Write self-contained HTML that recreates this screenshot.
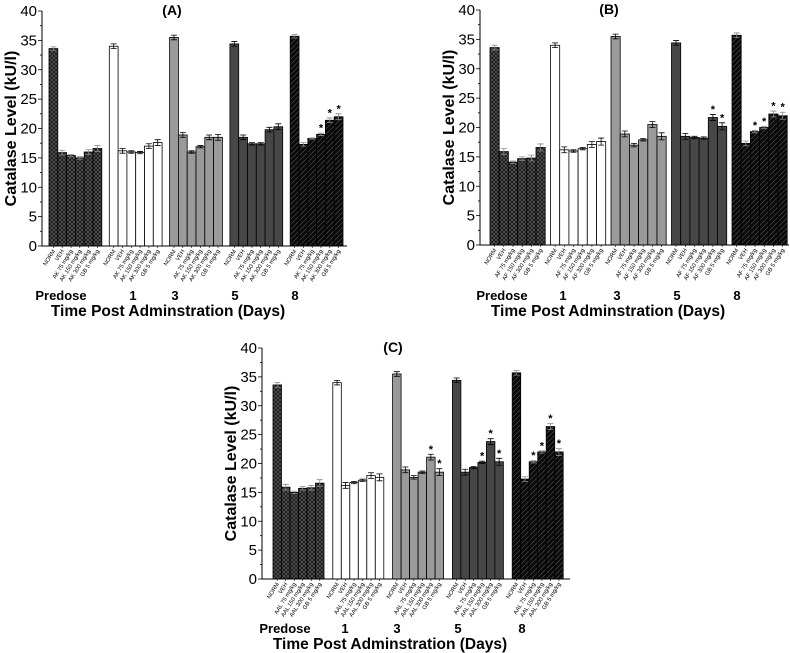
<!DOCTYPE html>
<html><head><meta charset="utf-8">
<style>
html,body{margin:0;padding:0;background:#fff;}
svg{display:block;font-family:"Liberation Sans",Arial,sans-serif;}
</style></head>
<body>
<svg id="fig" width="790" height="653" viewBox="0 0 790 653" xmlns="http://www.w3.org/2000/svg">
<defs>
<pattern id="pCross" width="4" height="4" patternUnits="userSpaceOnUse">
<rect width="4" height="4" fill="#1a1a1a"/>
<path d="M0,0 L4,4 M4,0 L0,4" stroke="#666" stroke-width="0.6"/>
</pattern>
<pattern id="pDiag" width="5" height="5" patternUnits="userSpaceOnUse">
<rect width="5" height="5" fill="#0a0a0a"/>
<path d="M0,5 L5,0" stroke="#555" stroke-width="0.6"/>
</pattern>
</defs>
</svg>
<script>
// Shared data
const days = ["Predose", "1", "3", "5", "8"];
const yTicks = [0, 5, 10, 15, 20, 25, 30, 35, 40];
const fills = ["url(#pCross)", "#ffffff", "#9a9a9a", "#474747", "url(#pDiag)"];

// Panel A values (group x bar)
const valsA = [
  [33.6, 15.9, 15.4, 15.0, 16.0, 16.6],
  [34.0, 16.2, 16.0, 15.9, 17.0, 17.6],
  [35.5, 18.9, 16.0, 16.9, 18.5, 18.5],
  [34.4, 18.5, 17.4, 17.4, 19.8, 20.3],
  [35.7, 17.3, 18.3, 19.0, 21.4, 22.0]
];
const errA = [
  [0.3, 0.4, 0.2, 0.2, 0.4, 0.5],
  [0.4, 0.4, 0.2, 0.2, 0.4, 0.5],
  [0.4, 0.4, 0.2, 0.2, 0.4, 0.5],
  [0.4, 0.4, 0.2, 0.2, 0.4, 0.5],
  [0.3, 0.3, 0.1, 0.2, 0.4, 0.5]
];
const starsA = [[], [], [], [], [3, 4, 5]];
const catsA = ["NORM", "VEH", "AK 75 mg/kg", "AK 150 mg/kg", "AK 300 mg/kg", "GB 5 mg/kg"];

// Panel B values
const valsB = [
  [33.6, 15.9, 14.1, 14.7, 14.8, 16.6],
  [34.0, 16.2, 16.0, 16.4, 17.1, 17.6],
  [35.5, 18.9, 17.0, 17.9, 20.5, 18.5],
  [34.4, 18.5, 18.3, 18.2, 21.7, 20.2],
  [35.7, 17.3, 19.3, 20.0, 22.3, 22.0]
];
const errB = [
  [0.4, 0.5, 0.2, 0.3, 0.5, 0.6],
  [0.4, 0.5, 0.2, 0.2, 0.5, 0.6],
  [0.4, 0.5, 0.3, 0.2, 0.5, 0.6],
  [0.4, 0.5, 0.2, 0.2, 0.5, 0.6],
  [0.4, 0.4, 0.2, 0.2, 0.5, 0.6]
];
const starsB = [[], [], [], [4, 5], [2, 3, 4, 5]];
const catsB = ["NORM", "VEH", "AF 75 mg/kg", "AF 150 mg/kg", "AF 300 mg/kg", "GB 5 mg/kg"];

// Panel C values
const valsC = [
  [33.6, 15.9, 15.0, 15.7, 15.8, 16.6],
  [34.0, 16.2, 16.7, 17.1, 17.9, 17.6],
  [35.5, 18.9, 17.6, 18.5, 21.1, 18.5],
  [34.4, 18.5, 19.3, 20.2, 23.8, 20.3],
  [35.7, 17.3, 20.3, 22.0, 26.4, 22.0]
];
const errC = [
  [0.4, 0.5, 0.2, 0.3, 0.4, 0.6],
  [0.4, 0.5, 0.2, 0.2, 0.5, 0.6],
  [0.4, 0.5, 0.3, 0.2, 0.5, 0.6],
  [0.4, 0.5, 0.2, 0.2, 0.5, 0.6],
  [0.4, 0.4, 0.2, 0.2, 0.5, 0.6]
];
const starsC = [[], [], [4, 5], [3, 4, 5], [2, 3, 4, 5]];
const catsC = ["NORM", "VEH", "AAL 75 mg/kg", "AAL 150 mg/kg", "AAL 300 mg/kg", "GB 5 mg/kg"];

const NS = "http://www.w3.org/2000/svg";
const svg = document.getElementById("fig");
function mk(tag, attrs, parent, text) {
  const e = document.createElementNS(NS, tag);
  for (const k in attrs) e.setAttribute(k, attrs[k]);
  if (text !== undefined) e.textContent = text;
  parent.appendChild(e);
  return e;
}

function panel(cfg, vals, errs, stars, cats) {
  const g = mk("g", {}, svg);
  
  
  const y = v => cfg.yBot - (v / 40) * (cfg.yBot - cfg.yTop);
  const barX = (gi, bi) => cfg.x0 + gi * cfg.step + bi * cfg.bw;

  vals.forEach((grp, gi) => {
    grp.forEach((v, bi) => {
      const x = barX(gi, bi);
      const r = mk("rect", {x: x, y: y(v), width: cfg.bw, height: y(0) - y(v), fill: fills[gi], stroke: "#000", "stroke-width": 0.8}, g);
      
      
      const cx = x + cfg.bw / 2, e = errs[gi][bi];
      const eb = mk("path", {d: `M${cx},${y(v - e)}V${y(v + e)}M${cx - 3},${y(v + e)}H${cx + 3}M${cx - 3},${y(v - e)}H${cx + 3}`, stroke: gi === 4 || gi === 0 ? "#888" : "#000", "stroke-width": 0.8, fill: "none"}, g);
      
      
      if (stars[gi].includes(bi)) {
        const s = mk("text", {x: cx, y: y(v + e) - 1.5, "text-anchor": "middle", "font-size": 11, "font-weight": "bold"}, g, "*");
        
        
      }
      const tl = mk("text", {transform: `translate(${cx + 2},${cfg.yBot + 5}) rotate(-58)`, "text-anchor": "end", "font-size": 5.8}, g, cats[bi]);
      
      
    });
  });

  const ax = mk("path", {d: `M${cfg.ax},${cfg.yTop}V${cfg.yBot}H${cfg.xEnd}`, stroke: "#000", "stroke-width": 1, fill: "none"}, g);
  
  
  for (let t = 0; t <= 40; t += 2.5) {
    const major = t % 5 === 0;
    mk("line", {x1: cfg.ax - (major ? 4 : 2), x2: cfg.ax, y1: y(t), y2: y(t), stroke: "#000", "stroke-width": 0.8}, g);
  }
  yTicks.forEach(t => {
    const tx = mk("text", {x: cfg.ax - 5, y: y(t) + 5, "text-anchor": "end", "font-size": 15}, g, String(t));
    
    
  });
  vals.forEach((grp, gi) => {
    for (let bi = 0; bi < 6; bi++) {
      const cx = barX(gi, bi) + cfg.bw / 2;
      mk("line", {x1: cx, x2: cx, y1: cfg.yBot, y2: cfg.yBot + 2, stroke: "#000", "stroke-width": 0.6}, g);
    }
  });

  days.forEach((d, i) => {
    const t = mk("text", {x: cfg.ax + cfg.dayOff[i], y: cfg.dayY, "text-anchor": "middle", "font-size": 13, "font-weight": "bold"}, g, d);
    
    
  });
  const xt = mk("text", {x: cfg.ax + cfg.xTitleOff, y: cfg.dayY + 16, "text-anchor": "middle", "font-size": 15.5, "font-weight": "bold"}, g, "Time Post Adminstration (Days)");
  
  
  const yt = mk("text", {transform: `translate(${cfg.ax - 26},${(cfg.yTop + cfg.yBot) / 2}) rotate(-90)`, "text-anchor": "middle", "font-size": 16, "font-weight": "bold"}, g, "Catalase Level (kU/l)");
  
  
  const ti = mk("text", {x: cfg.ax + cfg.titleOff, y: cfg.yTop + 4, "text-anchor": "middle", "font-size": 14, "font-weight": "bold"}, g, "(" + cfg.key.toUpperCase() + ")");
  
  
}

panel({key: "a", ax: 42, yTop: 11, yBot: 246, xEnd: 347, x0: 49, step: 60.3, bw: 8.8,
  dayY: 300, dayOff: [19, 91, 133, 193, 253], xTitleOff: 126, titleOff: 130}, valsA, errA, starsA, catsA);
panel({key: "b", ax: 480, yTop: 10, yBot: 245, xEnd: 789, x0: 490, step: 60.5, bw: 9.2,
  dayY: 300, dayOff: [22, 83, 137, 197, 257], xTitleOff: 128, titleOff: 129}, valsB, errB, starsB, catsB);
panel({key: "c", ax: 262, yTop: 348, yBot: 579, xEnd: 570, x0: 273, step: 59.8, bw: 8.5,
  dayY: 633, dayOff: [23, 83, 135, 196, 260], xTitleOff: 128, titleOff: 131}, valsC, errC, starsC, catsC);
</script>
</body></html>
